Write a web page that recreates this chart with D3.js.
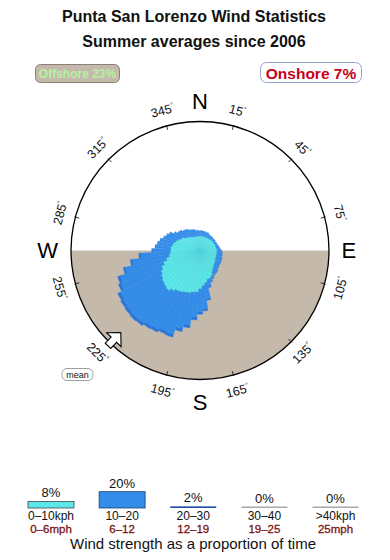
<!DOCTYPE html>
<html><head><meta charset="utf-8">
<script src="https://cdn.jsdelivr.net/npm/d3@7"></script>
<style>
body{margin:0;background:#fff}
svg{display:block}
text{font-family:"Liberation Sans",Arial,Helvetica,sans-serif}
</style>
</head><body>
<svg id="chart" width="390" height="560"></svg>
<script>
// ---------------- data ----------------
const titleLines = ["Punta San Lorenzo Wind Statistics", "Summer averages since 2006"];
const offshorePct = 23;
const onshorePct = 7;
const meanDirection = 224;               // degrees
const compassTicks = [15,45,75,105,135,165,195,225,255,285,315,345];
const cardinals = ["N","E","S","W"];
// 5-degree sectors, centred on 0,5,...,355 (values relative to outer circle = 100)
const sectorAngles = d3.range(0, 360, 5);
const speed0_10 = [11,11,11,10.5,11,11,11,11,11,11.5,11.5,12,11.5,12,12.5,12,12.5,12.5,13,12.5,13,12.5,13,13,
  13.5,14,14.5,15,16,17,18.5,21,22.5,23,25,27,29.5,32,32.5,33.5,34,35,35.5,37,39,38,37,35.5,
  34,32,29.5,26.5,24,23,22.5,22.5,21.5,21,19.5,18.5,17,16.5,14.5,14,13,12.5,11.5,11.5,11,11,11,11];
const speed10_20 = [4,4.5,4,4.5,3.5,4,3,3,3,2.5,2,2,2,2,1.5,2.5,2.5,3,3.5,4.5,4.5,4.5,5,5,
  5,4.5,4.5,4.5,4.5,4,3,2.5,3,5.5,12.5,18,18,19.5,25.5,28.5,34,32.5,33.5,32.5,32,33.5,34,35,
  35.5,34,35,32.5,28.5,23,14,11.5,11,10,10,9.5,9.5,7.5,7.5,7.5,7,7,7,6,6,5.5,4.5,4.5];
const speed20_30 = [0,0,0,0,0,0,0,0,0,0,0,0,0,0,0,0,0,0,0,0,0,0,0,0,
  0,0,0,0,0.5,0.5,0.5,0.5,0.5,1,1.5,2,2,2.5,2.5,2.5,2.5,2.5,2.5,2.5,2.5,2.5,2.5,2.5,
  2.5,2.5,2.5,2,2,1.5,1,1,1,1,0.5,0.5,0.5,0,0,0,0,0,0,0,0,0,0,0];

const bandKph = ["0–10kph","10–20","20–30","30–40",">40kph"];
const bandMph = ["0–6mph","6–12","12–19","19–25","25mph"];
const bandPct = [8,20,2,0,0];
const legendTitle = "Wind strength as a proportion of time";

// ---------------- setup ----------------
const svg = d3.select("#chart");
const cx = 200, cy = 250.5, R = 129;
const rad = d => d * Math.PI / 180;
const colors = {cyan:"#5be8ea", blue:"#328ce8", rim:"#2a76da", tan:"#c4b9ab"};

// titles
svg.selectAll("text.title").data(titleLines).join("text")
  .attr("class","title")
  .attr("x", 194).attr("y", (d,i) => 22 + i*25)
  .attr("text-anchor","middle")
  .attr("font-size", 16).attr("font-weight","bold").attr("fill","#111")
  .text(d => d);

// badges
const off = svg.append("g");
off.append("rect").attr("x",35.5).attr("y",64.5).attr("width",84).attr("height",18).attr("rx",5)
  .attr("fill",colors.tan).attr("stroke","#8a8078").attr("stroke-width",1);
off.append("text").attr("x",77.5).attr("y",78).attr("text-anchor","middle")
  .attr("font-size",12).attr("font-weight","bold").attr("fill","#b6f0a0")
  .text(`Offshore ${offshorePct}%`);
const on = svg.append("g");
on.append("rect").attr("x",260.5).attr("y",62.5).attr("width",101).attr("height",20).attr("rx",6)
  .attr("fill","#fff").attr("stroke","#8ea4c8").attr("stroke-width",1);
on.append("text").attr("x",311).attr("y",79).attr("text-anchor","middle")
  .attr("font-size",15.5).attr("font-weight","bold").attr("fill","#c8001a")
  .text(`Onshore ${onshorePct}%`);

// ---------------- rose ----------------
const g = svg.append("g").attr("transform",`translate(${cx},${cy})`);
const rScale = d3.scaleLinear().domain([0,100]).range([0,R]);

// offshore half (east -> south -> west)
g.append("path")
  .attr("d", d3.arc()({innerRadius:0, outerRadius:R, startAngle:Math.PI/2, endAngle:Math.PI*3/2}))
  .attr("fill", colors.tan);

const table = sectorAngles.map((a,i) => ({angle:a, s1:speed0_10[i], s2:speed10_20[i], s3:speed20_30[i]}));
const stack = d3.stack().keys(["s1","s2","s3"])(table);
const arc = d3.arc();
const layerColor = {s1:colors.cyan, s2:colors.blue, s3:colors.rim};
const layerStroke = {s1:"#4ed3dc", s2:colors.blue, s3:colors.rim};
[...stack].reverse().forEach(layer => {
  g.append("g").selectAll("path").data(layer).join("path")
    .attr("d", d => arc({
      innerRadius: rScale(d[0]), outerRadius: rScale(d[1]),
      startAngle: rad(d.data.angle - 2.5), endAngle: rad(d.data.angle + 2.5)}))
    .attr("fill", layerColor[layer.key])
    .attr("stroke", layerStroke[layer.key])
    .attr("stroke-width", layer.key === "s1" ? 0.4 : 0.3);
});

// outer circle
g.append("circle").attr("r", R).attr("fill","none").attr("stroke","#000").attr("stroke-width",1.3);

// ticks and labels
const pt = (a, r) => [r*Math.sin(rad(a)), -r*Math.cos(rad(a))];
g.selectAll("line.tick").data(compassTicks).join("line")
  .attr("x1", d => pt(d,R-4)[0]).attr("y1", d => pt(d,R-4)[1])
  .attr("x2", d => pt(d,R+1)[0]).attr("y2", d => pt(d,R+1)[1])
  .attr("stroke","#000").attr("stroke-width",0.8);
const lab = g.selectAll("text.tl").data(compassTicks).join("text")
  .attr("class","tl")
  .attr("transform", d => {
    const p = pt(d, 145);
    const rot = (d > 90 && d < 270) ? d - 180 : (d > 270 ? d - 360 : d);
    return `translate(${p[0]},${p[1]}) rotate(${rot})`;
  })
  .attr("text-anchor","middle").attr("dy","0.36em")
  .attr("font-size",12.5).attr("fill","#111");
lab.append("tspan").text(d => d);
lab.append("tspan").attr("font-size",7).attr("dy",-5).text("°");

// cardinal letters
const cardPos = {N:[0,-141.5,"middle"], S:[0,159.5,"middle"], E:[141.5,7,"start"], W:[-142,7.5,"end"]};
g.selectAll("text.card").data(cardinals).join("text")
  .attr("x", d => cardPos[d][0]).attr("y", d => cardPos[d][1])
  .attr("text-anchor", d => cardPos[d][2])
  .attr("font-size",22).attr("fill","#000")
  .text(d => d);

// mean arrow (points toward centre)
const ap = pt(meanDirection, 124);
g.append("path")
  .attr("d","M0,-10L10,0L3.8,0L3.8,8.5L-3.8,8.5L-3.8,0L-10,0Z")
  .attr("transform",`translate(${ap[0]},${ap[1]}) rotate(${meanDirection+180})`)
  .attr("fill","#fff").attr("stroke","#000").attr("stroke-width",1.1).attr("stroke-linejoin","miter");

// mean label
svg.append("rect").attr("x",62).attr("y",368.5).attr("width",31).attr("height",12).attr("rx",5)
  .attr("fill","#fff").attr("stroke","#888").attr("stroke-width",0.8);
svg.append("text").attr("x",77.5).attr("y",377.8).attr("text-anchor","middle")
  .attr("font-size",9).attr("fill","#111").text("mean");

// ---------------- legend ----------------
const xL = d3.scalePoint().domain(bandKph).range([51, 335.5]);
const hL = d3.scaleLinear().domain([0,20]).range([0,16.3]);
const barW = 46, base = 508;
const legFill = ["#5be8ea","#328ce8","#1f4fa0","#a8a8a8","#a8a8a8"];
const legStroke = ["#444","#1d3f70","#1f4fa0","#a8a8a8","#a8a8a8"];
const lg = svg.append("g");
bandKph.forEach((k,i) => {
  const h = Math.max(hL(bandPct[i]), 1.5);
  const x = xL(k) - barW/2;
  lg.append("rect").attr("x",x).attr("y",base - h).attr("width",barW).attr("height",h)
    .attr("fill",legFill[i]).attr("stroke",legStroke[i])
    .attr("stroke-width", bandPct[i] >= 5 ? 0.8 : 0);
  lg.append("text").attr("x",xL(k)).attr("y",520).attr("text-anchor","middle")
    .attr("font-size",13).attr("fill","#111").text(bandPct[i] + "%")
    .attr("y", base - h - 4);
  lg.append("text").attr("x",xL(k)).attr("y",520).attr("text-anchor","middle")
    .attr("font-size",12).attr("fill","#111").text(k);
  lg.append("text").attr("x",xL(k)).attr("y",532.5).attr("text-anchor","middle")
    .attr("font-size",11.5).attr("fill","#7a1212")
    .attr("stroke","#7a1212").attr("stroke-width",0.3).text(bandMph[i]);
});
svg.append("text").attr("x",193).attr("y",549).attr("text-anchor","middle")
  .attr("font-size",15).attr("fill","#111").text(legendTitle);
</script>
</body></html>
